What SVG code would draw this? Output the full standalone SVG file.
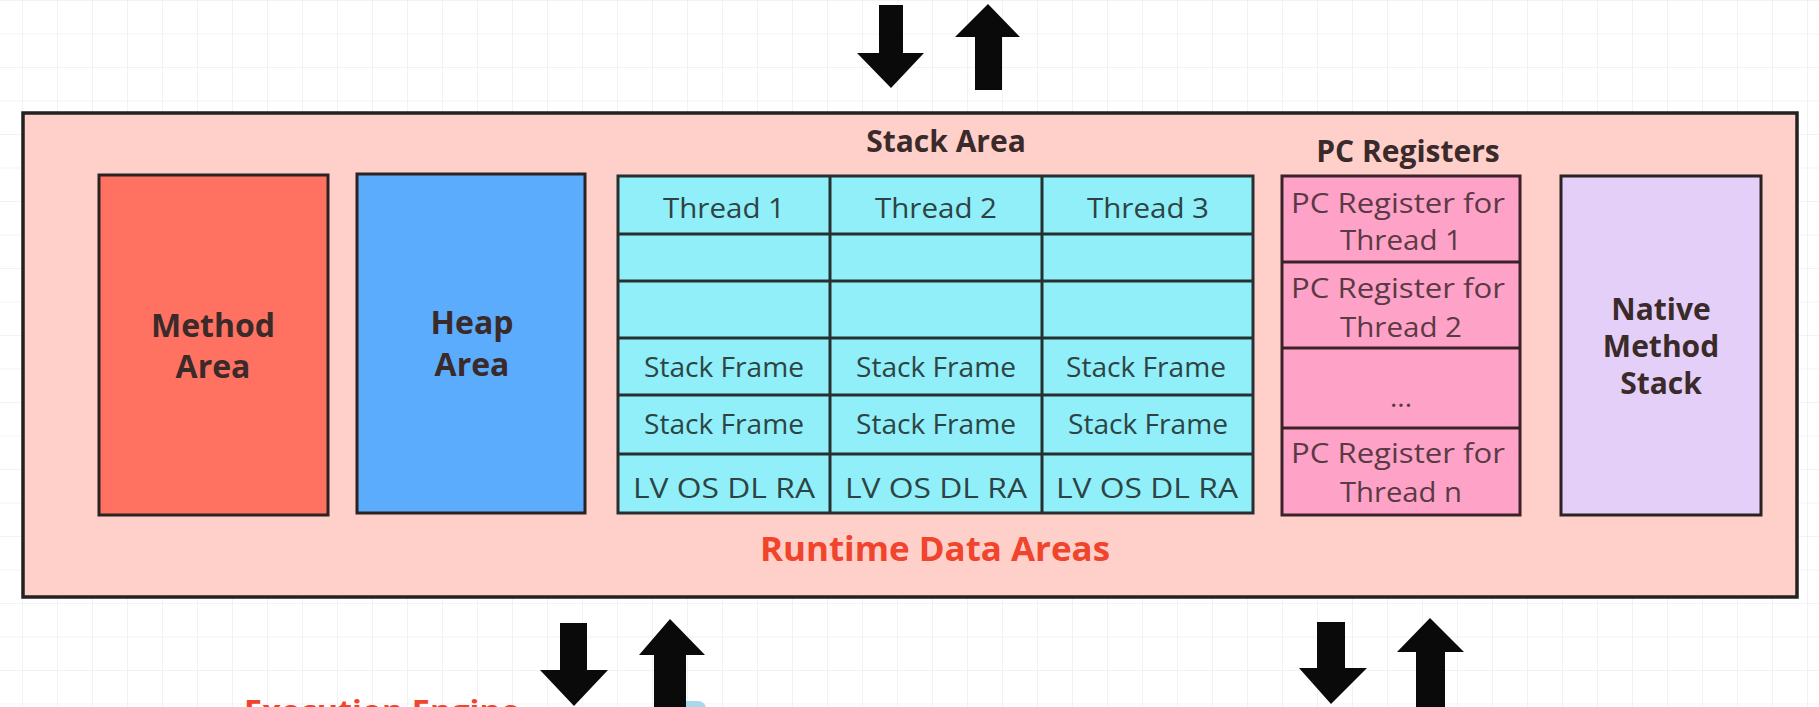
<svg xmlns="http://www.w3.org/2000/svg" width="1819" height="707" viewBox="0 0 1819 707">
  <defs>
    <pattern id="grid" x="22" y="0" width="35" height="33.5" patternUnits="userSpaceOnUse">
      <path d="M0 0 V33.5 M0 0 H35" fill="none" stroke="#e6e6e6" stroke-width="1"/>
    </pattern>
    <style>
      .box { stroke: #2b2222; stroke-width: 3; }
      .cell { fill: #90eff8; stroke: #263030; stroke-width: 3; }
      .pc { fill: #ffa2c8; stroke: #3a2228; stroke-width: 3; }
      .bold { font-family: "Open Sans", "Noto Sans", sans-serif; font-weight: bold; text-anchor: middle; }
      .reg { font-family: "Open Sans", "Noto Sans", sans-serif; font-weight: normal; text-anchor: middle; }
      .title { font-size: 30px; fill: #3a2a2a; }
      .big { font-size: 32px; fill: #3a2a2a; }
      .cellt { font-size: 28px; fill: #2e4444; }
      .pct { font-size: 28px; fill: #5a3a44; }
      .red { fill: #f0442c; }
      .arrow { fill: #0a0a0a; }
    </style>
  </defs>

  <rect x="0" y="0" width="1819" height="707" fill="#ffffff"/>
  <rect x="0" y="0" width="1819" height="707" fill="url(#grid)"/>

  <g id="runtime-data-areas">
    <rect x="23" y="113" width="1774" height="484" fill="#ffcfca" stroke="#222222" stroke-width="3.5"/>
    <text class="bold red" x="935" y="561" font-size="34" textLength="350" lengthAdjust="spacingAndGlyphs">Runtime Data Areas</text>
  </g>

  <g id="method-area">
    <rect class="box" x="99" y="175" width="229" height="340" fill="#ff7262"/>
    <text class="bold big" x="213" y="337">Method</text>
    <text class="bold big" x="213" y="378">Area</text>
  </g>

  <g id="heap-area">
    <rect class="box" x="357" y="174" width="228" height="339" fill="#5cacfd"/>
    <text class="bold big" x="472" y="334">Heap</text>
    <text class="bold big" x="472" y="376">Area</text>
  </g>

  <g id="stack-area">
    <text class="bold title" x="946" y="152">Stack Area</text>
    <rect class="cell" x="618" y="176" width="635" height="337"/>
    <g fill="none" stroke="#263030" stroke-width="3">
      <line x1="830" y1="176" x2="830" y2="513"/>
      <line x1="1042" y1="176" x2="1042" y2="513"/>
      <line x1="618" y1="234" x2="1253" y2="234"/>
      <line x1="618" y1="281" x2="1253" y2="281"/>
      <line x1="618" y1="338" x2="1253" y2="338"/>
      <line x1="618" y1="395" x2="1253" y2="395"/>
      <line x1="618" y1="454" x2="1253" y2="454"/>
    </g>
    <text class="reg cellt" x="724" y="218" textLength="122" lengthAdjust="spacingAndGlyphs">Thread 1</text>
    <text class="reg cellt" x="936" y="218" textLength="122" lengthAdjust="spacingAndGlyphs">Thread 2</text>
    <text class="reg cellt" x="1148" y="218" textLength="122" lengthAdjust="spacingAndGlyphs">Thread 3</text>
    <text class="reg cellt" x="724" y="377" textLength="160" lengthAdjust="spacingAndGlyphs">Stack Frame</text>
    <text class="reg cellt" x="936" y="377" textLength="160" lengthAdjust="spacingAndGlyphs">Stack Frame</text>
    <text class="reg cellt" x="1146" y="377" textLength="160" lengthAdjust="spacingAndGlyphs">Stack Frame</text>
    <text class="reg cellt" x="724" y="434" textLength="160" lengthAdjust="spacingAndGlyphs">Stack Frame</text>
    <text class="reg cellt" x="936" y="434" textLength="160" lengthAdjust="spacingAndGlyphs">Stack Frame</text>
    <text class="reg cellt" x="1148" y="434" textLength="160" lengthAdjust="spacingAndGlyphs">Stack Frame</text>
    <text class="reg cellt" x="724" y="498" font-size="31" textLength="182" lengthAdjust="spacingAndGlyphs">LV OS DL RA</text>
    <text class="reg cellt" x="936" y="498" font-size="31" textLength="182" lengthAdjust="spacingAndGlyphs">LV OS DL RA</text>
    <text class="reg cellt" x="1147" y="498" font-size="31" textLength="182" lengthAdjust="spacingAndGlyphs">LV OS DL RA</text>
  </g>

  <g id="pc-registers">
    <text class="bold title" x="1408" y="162">PC Registers</text>
    <rect class="pc" x="1282" y="176" width="238" height="339"/>
    <g fill="none" stroke="#3a2228" stroke-width="3">
      <line x1="1282" y1="262" x2="1520" y2="262"/>
      <line x1="1282" y1="348" x2="1520" y2="348"/>
      <line x1="1282" y1="428" x2="1520" y2="428"/>
    </g>
    <text class="reg pct" x="1398" y="213" textLength="214" lengthAdjust="spacingAndGlyphs">PC Register for</text>
    <text class="reg pct" x="1401" y="250" textLength="122" lengthAdjust="spacingAndGlyphs">Thread 1</text>
    <text class="reg pct" x="1398" y="298" textLength="214" lengthAdjust="spacingAndGlyphs">PC Register for</text>
    <text class="reg pct" x="1401" y="337" textLength="122" lengthAdjust="spacingAndGlyphs">Thread 2</text>
    <text class="reg pct" x="1401" y="407">...</text>
    <text class="reg pct" x="1398" y="463" textLength="214" lengthAdjust="spacingAndGlyphs">PC Register for</text>
    <text class="reg pct" x="1401" y="502" textLength="122" lengthAdjust="spacingAndGlyphs">Thread n</text>
  </g>

  <g id="native-method-stack">
    <rect class="box" x="1561" y="176" width="200" height="339" fill="#e4cff8"/>
    <text class="bold title" x="1661" y="320">Native</text>
    <text class="bold title" x="1661" y="357">Method</text>
    <text class="bold title" x="1661" y="394">Stack</text>
  </g>

  <g id="execution-engine">
    <rect x="656" y="701" width="50" height="20" rx="8" fill="#a8d8ee"/>
    <text class="bold red" x="382" y="722" font-size="31" textLength="276" lengthAdjust="spacingAndGlyphs">Execution Engine</text>
  </g>

  <g id="connectors">
    <polygon class="arrow" points="879,5 903,5 903,53 924,53 891,88 857,53 879,53"/>
    <polygon class="arrow" points="988,4 1020,37 1002,37 1002,90 975,90 975,37 955,37"/>
    <polygon class="arrow" points="560,623 587,623 587,670 608,670 574,706 540,670 560,670"/>
    <polygon class="arrow" points="670,619 705,655 686,655 686,712 654,712 654,655 639,655"/>
    <polygon class="arrow" points="1317,622 1345,622 1345,668 1367,668 1331,704 1299,668 1317,668"/>
    <polygon class="arrow" points="1430,618 1464,652 1445,652 1445,712 1416,712 1416,652 1397,652"/>
  </g>
</svg>
